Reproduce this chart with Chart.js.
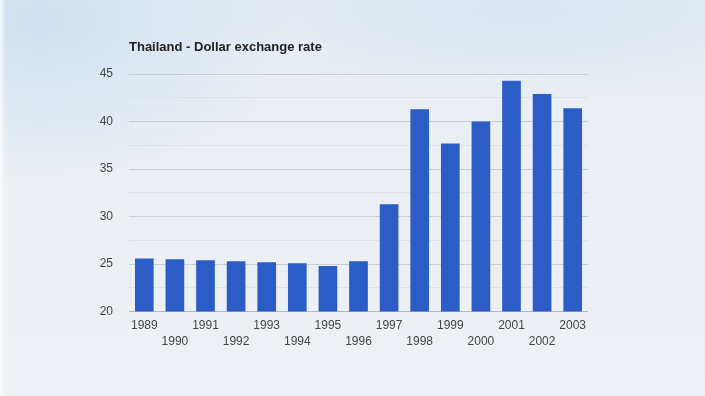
<!DOCTYPE html>
<html>
<head>
<meta charset="utf-8">
<script src="https://cdn.jsdelivr.net/npm/chart.js@4/dist/chart.umd.min.js"></script>
<style>
    html, body { margin: 0; padding: 0; }
    body {
        width: 705px; height: 396px; overflow: hidden;
        background:
            linear-gradient(90deg, rgba(255,255,255,0.8) 0px, rgba(255,255,255,0) 6px),
            radial-gradient(ellipse 260px 160px at 40px 20px, rgba(190,215,240,0.6), rgba(190,215,240,0) 100%),
            radial-gradient(ellipse 320px 90px at 520px 10px, rgba(200,220,240,0.5), rgba(200,220,240,0) 100%),
            linear-gradient(180deg, #e9eef3 0%, #edf1f5 100%);
    }
    #wrap { position: absolute; left: 0; top: 0; width: 705px; height: 396px; }
</style>
</head>
<body>
<div id="wrap"><canvas id="myChart"></canvas></div>
<script>
// Thailand - Dollar exchange rate (baht per USD)
const chartTitle = 'Thailand - Dollar exchange rate'
const years = ['1989', '1990', '1991', '1992', '1993', '1994', '1995', '1996',
    '1997', '1998', '1999', '2000', '2001', '2002', '2003']
const rates = [25.6, 25.5, 25.4, 25.3, 25.2, 25.1, 24.8, 25.3,
    31.3, 41.3, 37.7, 40.0, 44.3, 42.9, 41.4]
const yTicks = [20, 25, 30, 35, 40, 45]

// title drawn at the left edge of the plot area
const titlePlugin = {
    id: 'leftTitle',
    afterDraw (chart) {
        const ctx = chart.ctx
        ctx.save()
        ctx.font = 'bold 13px "Liberation Sans", Arial, sans-serif'
        ctx.fillStyle = '#222222'
        ctx.textBaseline = 'alphabetic'
        ctx.fillText(chartTitle, chart.chartArea.left, 51)
        ctx.restore()
    }
}

const ctx = document.getElementById('myChart')
const myChart = new Chart(ctx, {
    type: 'bar',
    data: {
        labels: years,
        datasets: [{
            label: 'Exchange rate',
            data: rates,
            backgroundColor: '#2c5cc6',
            borderWidth: 0,
            barPercentage: 0.61,
            categoryPercentage: 1.0
        }]
    },
    options: {
        responsive: true,
        maintainAspectRatio: false,
        animation: false,
        layout: { padding: { top: 74, right: 117, bottom: 40, left: 0 } },
        plugins: {
            legend: { display: false },
            tooltip: { enabled: false }
        },
        scales: {
            x: {
                grid: { display: false, drawTicks: false },
                border: { display: false },
                ticks: {
                    autoSkip: false,
                    maxRotation: 0,
                    padding: 6,
                    color: '#444444',
                    font: { family: '"Liberation Sans", Arial, sans-serif', size: 12, lineHeight: 1.35 },
                    // alternate labels onto a second row
                    callback: function (value, index) {
                        const lbl = this.getLabelForValue(value)
                        return index % 2 === 0 ? [lbl] : ['', lbl]
                    }
                }
            },
            y: {
                min: yTicks[0],
                max: yTicks[yTicks.length - 1],
                afterFit (scale) { scale.width = 129 },
                border: { display: false },
                grid: {
                    drawTicks: false,
                    color: c => {
                        if (c.tick.value === yTicks[0]) return '#b4b8bd'
                        return yTicks.includes(c.tick.value) ? '#c9cdd2' : '#dde2e7'
                    },
                    lineWidth: 1
                },
                ticks: {
                    stepSize: 2.5,
                    padding: 16,
                    color: '#444444',
                    font: { family: '"Liberation Sans", Arial, sans-serif', size: 12 },
                    callback: v => yTicks.includes(v) ? String(v) : ''
                }
            }
        }
    },
    plugins: [titlePlugin]
})
</script>
</body>
</html>
